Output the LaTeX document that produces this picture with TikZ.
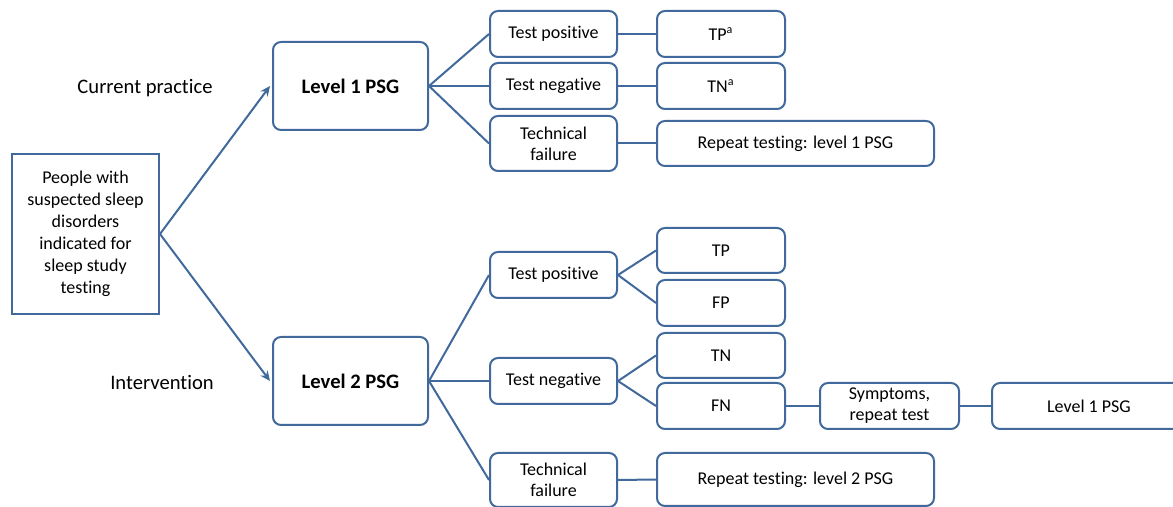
\documentclass[tikz,border=0pt]{standalone}
\usepackage{fontspec}
\setmainfont[RawFeature={-liga}]{Carlito}
\usetikzlibrary{arrows.meta}
\definecolor{blu}{HTML}{41699C}
\tikzset{
  box/.style={draw=blu, line width=1pt, rounded corners=4pt, align=center,
    inner sep=0pt, font=\fontsize{9}{10.5}\selectfont, text=black},
  sqbox/.style={box, rounded corners=0pt, font=\fontsize{9}{11}\selectfont},
  lvl/.style={box, font=\fontsize{10.3}{12}\selectfont\bfseries},
  arm/.style={font=\fontsize{10.3}{12}\selectfont},
  link/.style={draw=blu, line width=1pt},
  arr/.style={link, -{Stealth[length=5pt,width=4.5pt]}}
}
\begin{document}
\begin{tikzpicture}[x=0.5pt,y=-0.5pt]
\useasboundingbox (0,0) rectangle (1173,507);
\clip (0,0) rectangle (1173,507);

% source population
\node[sqbox, minimum width=73.5pt, minimum height=80pt] (src) at (85.5,234)
  {People with\\suspected sleep\\disorders\\indicated for\\sleep study\\testing};

% arm labels
\node[arm] (cur) at (145,88) {Current practice};
\node[arm] (int) at (162,382) {Intervention};

% test levels
\node[lvl, minimum width=77.5pt, minimum height=44pt] (l1) at (350.5,86) {Level 1 PSG};
\node[lvl, minimum width=77.5pt, minimum height=44pt] (l2) at (350.5,381) {Level 2 PSG};

% current practice outcomes
\node[box, minimum width=63.5pt, minimum height=23pt] (tp1) at (553.5,34) {Test positive};
\node[box, minimum width=63.5pt, minimum height=23pt] (tn1) at (553.5,86) {Test negative};
\node[box, minimum width=63.5pt, minimum height=27.5pt] (tf1) at (553.5,143.5) {Technical\\failure};
\node[box, minimum width=64pt, minimum height=23pt] (tpa) at (721,34) {TP\textsuperscript{a}};
\node[box, minimum width=64pt, minimum height=23pt] (tna) at (721,86) {TN\textsuperscript{a}};
\node[box, minimum width=138.5pt, minimum height=22.5pt] (rep1) at (795.5,143.5) {Repeat testing: level 1 PSG};

% intervention outcomes
\node[box, minimum width=63.5pt, minimum height=23pt] (tp2) at (553.5,275) {Test positive};
\node[box, minimum width=63.5pt, minimum height=23pt] (tn2) at (553.5,381) {Test negative};
\node[box, minimum width=63.5pt, minimum height=27pt] (tf2) at (553.5,480) {Technical\\failure};
\node[box, minimum width=64pt, minimum height=22.5pt] (tp) at (721,250.5) {TP};
\node[box, minimum width=64pt, minimum height=23pt] (fp) at (721,303) {FP};
\node[box, minimum width=64pt, minimum height=22.5pt] (tn) at (721,355.5) {TN};
\node[box, minimum width=64pt, minimum height=23pt] (fn) at (721,406) {FN};
\node[box, minimum width=69.5pt, minimum height=23pt] (sym) at (889.5,406) {Symptoms,\\repeat test};
\node[box, minimum width=97pt, minimum height=23pt] (l1b) at (1089,406) {Level 1 PSG};
\node[box, minimum width=138.5pt, minimum height=26.5pt] (rep2) at (795.5,479.5) {Repeat testing: level 2 PSG};

% arrows to the two arms
\draw[arr] (src.east) -- ([xshift=-1pt]l1.west);
\draw[arr] (src.east) -- ([xshift=-1pt]l2.west);

% current practice branches
\draw[link] (l1.east) -- (tp1.west);
\draw[link] (l1.east) -- (tn1.west);
\draw[link] (l1.east) -- (tf1.west);
\draw[link] (tp1.east) -- (tpa.west);
\draw[link] (tn1.east) -- (tna.west);
\draw[link] (tf1.east) -- (rep1.west);

% intervention branches
\draw[link] (l2.east) -- (tp2.west);
\draw[link] (l2.east) -- (tn2.west);
\draw[link] (l2.east) -- (tf2.west);
\draw[link] (tp2.east) -- (tp.west);
\draw[link] (tp2.east) -- (fp.west);
\draw[link] (tn2.east) -- (tn.west);
\draw[link] (tn2.east) -- (fn.west);
\draw[link] (fn.east) -- (sym.west);
\draw[link] (sym.east) -- (l1b.west);
\draw[link] (tf2.east) -- (rep2.west);
\end{tikzpicture}
\end{document}
